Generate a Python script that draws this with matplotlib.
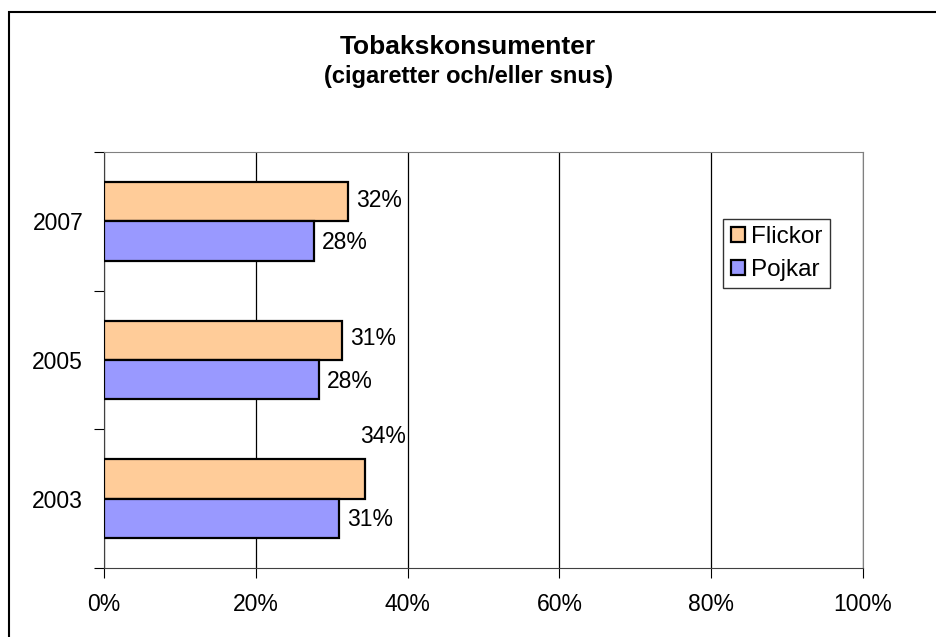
import matplotlib.pyplot as plt
from matplotlib.patches import Rectangle

plt.rcParams['font.family'] = ['Liberation Sans', 'DejaVu Sans']

# data
years = ['2003', '2005', '2007']
flickor = [34.4, 31.4, 32.2]
pojkar = [31.0, 28.3, 27.7]
flickor_labels = ['34%', '31%', '32%']
pojkar_labels = ['31%', '28%', '28%']
xticks = [0, 20, 40, 60, 80, 100]

fig = plt.figure(figsize=(9.36, 6.37), dpi=100)
fig.patch.set_facecolor('white')

# chart border (runs off the right/bottom edge like the original)
fig.patches.append(Rectangle((9 / 936, -0.01), 1.0, 1 - 12 / 637 + 0.01,
                             transform=fig.transFigure, fill=False,
                             edgecolor='black', linewidth=1.5))

ax = fig.add_axes([104 / 936, 1 - 568 / 637, 759 / 936, 416 / 637])

h = 0.283
pos = list(range(len(years)))
ax.barh([p + h / 2 for p in pos], flickor, height=h, color='#ffcc99',
        edgecolor='black', linewidth=1.6, label='Flickor', zorder=3)
ax.barh([p - h / 2 for p in pos], pojkar, height=h, color='#9999ff',
        edgecolor='black', linewidth=1.6, label='Pojkar', zorder=3)

# data labels
fs = 16.5
for i, p in enumerate(pos):
    if i == 0:
        # excel put this one above the bar
        ax.text(flickor[i] - 0.7, p + 0.446, flickor_labels[i], fontsize=fs,
                va='center', ha='left')
    else:
        ax.text(flickor[i] + 1.0, p + h / 2 + 0.01, flickor_labels[i],
                fontsize=fs, va='center', ha='left')
    ax.text(pojkar[i] + 1.0, p - h / 2 - 0.01, pojkar_labels[i], fontsize=fs,
            va='center', ha='left')

ax.set_xlim(0, 100)
ax.set_ylim(-0.5, 2.5)
ax.set_xticks(xticks)
ax.set_xticklabels([f'{t}%' for t in xticks], fontsize=fs)
ax.set_yticks([-0.5, 0.5, 1.5, 2.5])
ax.set_yticklabels([])
ax.set_yticks(pos, minor=True)
ax.set_yticklabels(years, minor=True, fontsize=fs)
ax.tick_params(axis='y', which='minor', length=0, pad=15)
ax.tick_params(axis='y', which='major', length=7, direction='out')
ax.tick_params(axis='x', length=7, direction='out', pad=11)
ax.grid(axis='x', color='black', linewidth=0.9, zorder=0)
for s in ['top', 'right']:
    ax.spines[s].set_color('#808080')
for s in ['left', 'bottom']:
    ax.spines[s].set_color('#404040')

leg = ax.legend(loc='upper left', bbox_to_anchor=(0.816, 0.84), fontsize=17.5,
                frameon=True, fancybox=False, edgecolor='black',
                handlelength=0.6, handleheight=0.6, handletextpad=0.25,
                borderpad=0.3, labelspacing=0.45, borderaxespad=0)
leg.get_frame().set_linewidth(1.0)

fig.text(0.5, 1 - 47 / 637, 'Tobakskonsumenter', ha='center', va='center',
         fontsize=19, fontweight='bold')
fig.text(0.5, 1 - 77 / 637, '(cigaretter och/eller snus)', ha='center',
         va='center', fontsize=17, fontweight='bold')

fig.savefig('out.png', dpi=100)
